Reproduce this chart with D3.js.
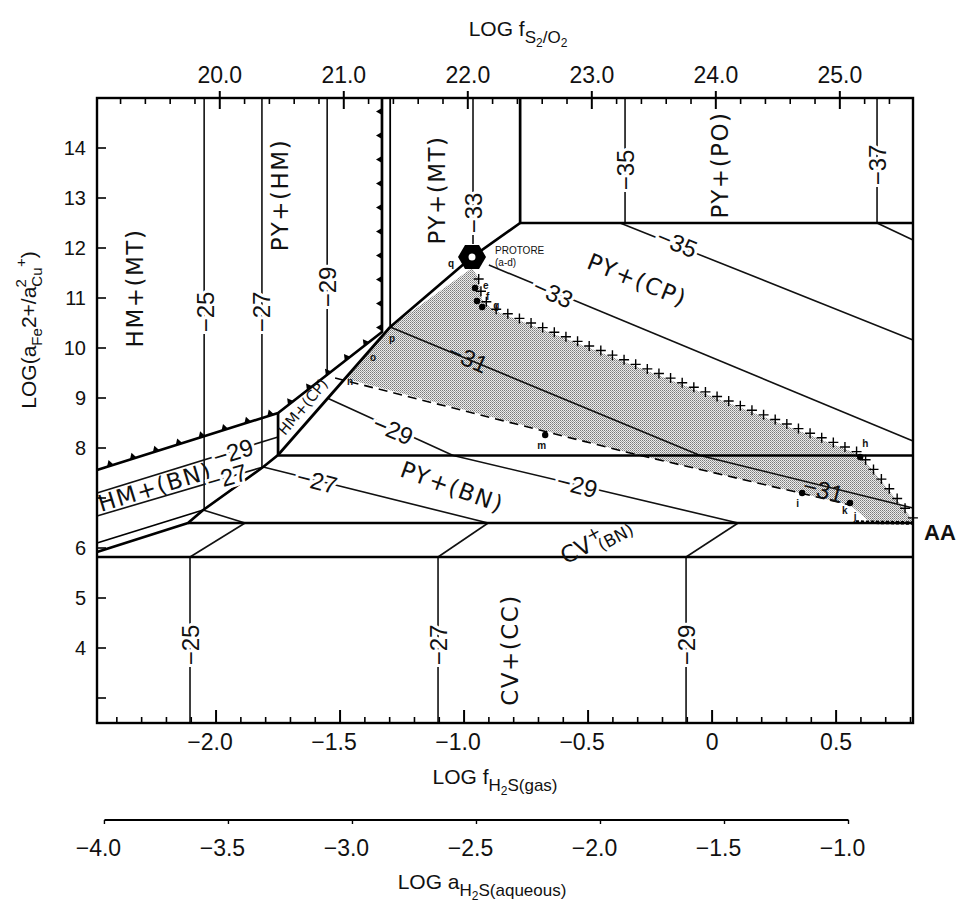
<!DOCTYPE html>
<html><head><meta charset="utf-8">
<script src="https://cdn.jsdelivr.net/npm/d3@7"></script>
<style>
body{margin:0;background:#fff;}
svg{display:block;background:#fff;}
text{font-family:"Liberation Sans",Arial,sans-serif;fill:#111;}
.reg{font-family:"DejaVu Sans","Liberation Sans",sans-serif;}
</style></head><body>
<svg id="c" width="965" height="914"></svg>
<script>
// ---------------- DATA ----------------
const xDomain = [-2.48, 0.81];          // log f H2S(gas)
const yDomain = [2.5, 15];              // log(aFe2+/a2Cu+)
const bottomTicks = [-2.0, -1.5, -1.0, -0.5, 0, 0.5];
const bottomTickLabels = ["−2.0", "−1.5", "−1.0", "−0.5", "0", "0.5"];
const topOffset = 23.97;                // log fS2/O2 = 2·log fH2S + offset
const topTicks = [20, 21, 22, 23, 24, 25];
const topTickLabels = ["20.0", "21.0", "22.0", "23.0", "24.0", "25.0"];
const aqOffset = 1.55;                  // log aH2S(aq) = log fH2S − offset
const aqTicks = [-4.0, -3.5, -3.0, -2.5, -2.0, -1.5, -1.0];
const aqTickLabels = ["−4.0", "−3.5", "−3.0", "−2.5", "−2.0", "−1.5", "−1.0"];
const yTicks = [14, 13, 12, 11, 10, 9, 8, 6, 5, 4];
const yTickLabels = ["14", "13", "12", "11", "10", "9", "8", "6", "5", "4"];

// phase boundaries (thick)
const bndPO = [[-0.774, 15], [-0.774, 12.5], [0.81, 12.5]];
const bndDiag = [[-0.774, 12.5], [-0.968, 11.82], [-1.298, 10.42]];
const bndHM = [[-2.48, 7.56], [-1.75, 8.70], [-1.331, 10.32], [-1.331, 15]];   // hematite limit (triangles)
const bndMTHM = [[-1.298, 10.42], [-1.298, 15]];
const bndHMCPv = [[-1.75, 8.70], [-1.75, 7.86]];
const bndHMCP = [[-1.75, 7.86], [-1.298, 10.42]];
const bndBN = [[-1.75, 7.86], [-1.81, 7.62], [-2.052, 6.76], [-2.113, 6.50], [-2.48, 5.92]];
const bndBNthin = [[-2.48, 6.10], [-2.052, 6.76]];
const bndCPBN = [[-1.75, 7.85], [0.81, 7.85]];
const bndBNCV = [[-2.113, 6.5], [0.81, 6.5]];
const bndCVCC = [[-2.48, 5.82], [0.81, 5.82]];

// contours (log fO2)
const cont25 = [[[-2.048, 15], [-2.048, 6.76]], [[-2.052, 6.76], [-1.883, 6.5]], [[-1.883, 6.5], [-2.105, 5.82]], [[-2.105, 5.82], [-2.105, 2.5]]];
const cont27 = [[[-1.815, 15], [-1.815, 7.62]], [[-2.48, 6.64], [-1.81, 7.62]], [[-1.81, 7.62], [-0.903, 6.5]], [[-0.903, 6.5], [-1.105, 5.82]], [[-1.105, 5.82], [-1.105, 2.5]]];
const cont29 = [[[-1.552, 15], [-1.552, 9.44]], [[-2.48, 7.10], [-1.75, 8.22]], [[-1.552, 9.0], [-1.044, 7.85]], [[-1.044, 7.85], [0.105, 6.5]], [[0.105, 6.5], [-0.105, 5.82]], [[-0.105, 5.82], [-0.105, 2.5]]];
const cont31 = [[[-1.298, 10.42], [-0.048, 7.85], [0.81, 6.80]]];
const cont33 = [[[-0.964, 15], [-0.964, 12.08]], [[-0.90, 11.66], [0.81, 8.14]]];
const cont35 = [[[-0.351, 15], [-0.351, 12.5]], [[-0.371, 12.5], [0.81, 10.16]]];
const cont37 = [[[0.665, 15], [0.665, 12.5]], [[0.665, 12.5], [0.81, 12.16]]];

// altered / shaded field
const shade = [[-0.968, 11.60], [-1.298, 10.42], [-1.48, 9.39], [-0.331, 7.90], [0.355, 7.10], [0.556, 6.86], [0.637, 6.52], [0.81, 6.5], [0.81, 6.56], [0.597, 7.86], [-0.883, 10.76], [-0.927, 10.96], [-0.944, 11.42]];
const plusLine = [[-0.944, 11.42], [-0.927, 10.96], [-0.883, 10.76], [0.597, 7.86], [0.81, 6.56]];
const dashLine = [[-1.52, 9.40], [-0.331, 7.90], [0.355, 7.10], [0.556, 6.86]];
const rimLine = [[0.58, 6.52], [0.81, 6.5]];
const protore = [-0.968, 11.82];

const sampleNames = ["e", "f", "g", "h", "i", "k", "m"];
const samplePts = [[-0.956, 11.20], [-0.948, 10.94], [-0.927, 10.82], [0.597, 7.82], [0.363, 7.10], [0.556, 6.90], [-0.673, 8.26]];
const letterNames = ["q", "n", "o", "p", "j"];
const letterPts = [[-1.052, 11.70], [-1.46, 9.34], [-1.367, 9.82], [-1.29, 10.20], [0.577, 6.64]];

const regionNames = ["HM+(MT)", "PY+(HM)", "PY+(MT)", "PY+(PO)", "PY+(CP)", "PY+(BN)", "HM+(BN)", "CV+(CC)"];
const regionPos = [[-2.327, 11.20], [-1.742, 13.06], [-1.109, 13.16], [0.032, 13.66], [-0.302, 11.36], [-1.048, 7.22], [-2.246, 7.22], [-0.815, 3.96]];
const regionRot = [-90, -90, -90, -90, 22, 20, -17, -90];

const cLabelText = ["−25", "−27", "−29", "−33", "−35", "−37", "−33", "−35", "−31", "−29", "−29", "−27", "−27", "−29", "−31", "−25", "−27", "−29"];
const cLabelPos = [[-2.044, 10.72], [-1.815, 10.72], [-1.552, 11.22], [-0.964, 12.70], [-0.351, 13.56], [0.665, 13.66], [-0.641, 11.10], [-0.141, 12.10], [-0.984, 9.80], [-1.286, 8.36], [-0.544, 7.26], [-1.593, 7.34], [-1.956, 7.42], [-1.931, 7.92], [0.448, 7.16], [-2.105, 4.06], [-1.105, 4.06], [-0.105, 4.06]];
const cLabelRot = [-90, -90, -90, -90, -90, -90, 24, 22, 24, 23, 14, 14, -16, -17, 14, -90, -90, -90];
const cLabelNoHalo = new Set([8, 14]);

// ---------------- CHART ----------------
const svg = d3.select("#c");
const L = 97, R = 913, T = 98, B = 723;
const x = d3.scaleLinear().domain(xDomain).range([L, R]);
const y = d3.scaleLinear().domain(yDomain).range([B, T]);
const xTop = d3.scaleLinear().domain(xDomain.map(v => 2 * v + topOffset)).range([L, R]);
const xAq = d3.scaleLinear().domain(xDomain.map(v => v - aqOffset)).range([L, R]);
const line = d3.line().x(d => x(d[0])).y(d => y(d[1]));

const defs = svg.append("defs");
const pat = defs.append("pattern").attr("id", "stip").attr("width", 2).attr("height", 2).attr("patternUnits", "userSpaceOnUse");
pat.append("rect").attr("width", 2).attr("height", 2).attr("fill", "#ececec");
pat.append("rect").attr("x", 0).attr("y", 0).attr("width", 1).attr("height", 1).attr("fill", "#7a7a7a");
pat.append("rect").attr("x", 1).attr("y", 1).attr("width", 1).attr("height", 1).attr("fill", "#a0a0a0");

// shaded field
svg.append("path").attr("d", line(shade) + "Z").attr("fill", "url(#stip)");

// contours
[cont25, cont27, cont29, cont31, cont33, cont35, cont37].forEach(c => c.forEach(seg => {
  svg.append("path").attr("d", line(seg)).attr("fill", "none").attr("stroke", "#111").attr("stroke-width", 1.6);
}));

// boundaries
const thick = [bndPO, bndDiag, bndHM, bndHMCPv, bndHMCP, bndBN, bndCPBN, bndBNCV, bndCVCC];
thick.forEach(b => svg.append("path").attr("d", line(b)).attr("fill", "none").attr("stroke", "#000").attr("stroke-width", 2.7).attr("stroke-linejoin", "round"));
[bndMTHM, bndBNthin].forEach(b => svg.append("path").attr("d", line(b)).attr("fill", "none").attr("stroke", "#000").attr("stroke-width", 1.8));

function along(node, spacing, start, fn) {
  const len = node.getTotalLength();
  for (let l = start; l < len; l += spacing) {
    const p = node.getPointAtLength(l);
    const a = node.getPointAtLength(Math.max(0, l - 0.6)), b = node.getPointAtLength(Math.min(len, l + 0.6));
    let dx = b.x - a.x, dy = b.y - a.y; const n = Math.hypot(dx, dy) || 1; dx /= n; dy /= n;
    fn(p, dx, dy);
  }
}
// triangles on hematite limit
const hmNode = svg.append("path").attr("d", line(bndHM)).attr("fill", "none").attr("stroke", "none").node();
along(hmNode, 24, 14, (p, dx, dy) => {
  const nx = dy, ny = -dx;
  const pts = [[p.x - 3.5 * dx, p.y - 3.5 * dy], [p.x + 3.5 * dx, p.y + 3.5 * dy], [p.x + 6 * nx, p.y + 6 * ny]];
  svg.append("path").attr("d", "M" + pts.join("L") + "Z").attr("fill", "#000");
});

// plus line
const plNode = svg.append("path").attr("d", line(plusLine)).attr("fill", "none").attr("stroke", "none").node();
along(plNode, 12.5, 4, (p) => {
  svg.append("path").attr("d", `M${p.x - 5},${p.y - 2}H${p.x + 5}M${p.x},${p.y - 7}V${p.y + 3}`).attr("stroke", "#000").attr("stroke-width", 1.4);
});
// dashed lower limit
svg.append("path").attr("d", line(dashLine)).attr("fill", "none").attr("stroke", "#000").attr("stroke-width", 1.6).attr("stroke-dasharray", "9,6");
svg.append("path").attr("d", line(rimLine)).attr("fill", "none").attr("stroke", "#000").attr("stroke-width", 3.5).attr("stroke-dasharray", "3,2");

// protore hexagon
const hx = x(protore[0]), hy = y(protore[1]);
svg.append("path").attr("d", "M" + d3.range(6).map(i => [hx + 14 * Math.cos(i * Math.PI / 3), hy + 14 * Math.sin(i * Math.PI / 3)]).join("L") + "Z").attr("fill", "#000");
svg.append("circle").attr("cx", hx).attr("cy", hy).attr("r", 3.5).attr("fill", "#fff");
svg.append("text").attr("x", hx + 23).attr("y", hy - 3).attr("font-size", 10).text("PROTORE");
svg.append("text").attr("x", hx + 23).attr("y", hy + 9).attr("font-size", 10).text("(a-d)");

// sample points
const sOff = [[8, 1], [9, -1], [11, 2], [2, -10], [-6, 14], [-8, 11], [-8, 14]];
samplePts.forEach((d, i) => {
  svg.append("circle").attr("cx", x(d[0])).attr("cy", y(d[1])).attr("r", 3.2).attr("fill", "#000");
  svg.append("text").attr("x", x(d[0]) + sOff[i][0]).attr("y", y(d[1]) + sOff[i][1]).attr("font-size", 10).attr("font-weight", "bold").text(sampleNames[i]);
});
letterPts.forEach((d, i) => svg.append("text").attr("x", x(d[0])).attr("y", y(d[1])).attr("font-size", 10).attr("font-weight", "bold").attr("text-anchor", "middle").attr("dominant-baseline", "central").text(letterNames[i]));

// region labels
regionNames.forEach((t, i) => {
  svg.append("text").attr("class", "reg").attr("transform", `translate(${x(regionPos[i][0])},${y(regionPos[i][1])}) rotate(${regionRot[i]})`)
    .attr("text-anchor", "middle").attr("dominant-baseline", "central").attr("font-size", 23).attr("letter-spacing", 1.5).text(t);
});
// HM+(CP)
svg.append("text").attr("class", "reg").attr("transform", `translate(${x(-1.649)},${y(8.82)}) rotate(-50)`).attr("text-anchor", "middle").attr("dominant-baseline", "central").attr("font-size", 15).text("HM+(CP)");
// CV+(BN)
const cvb = svg.append("text").attr("class", "reg").attr("transform", `translate(${x(-0.47)},${y(6.16)}) rotate(-28)`).attr("text-anchor", "middle").attr("dominant-baseline", "central").attr("font-size", 23);
cvb.append("tspan").text("CV");
cvb.append("tspan").attr("dy", -7).attr("font-size", 17).text("+");
cvb.append("tspan").attr("dy", 14).attr("dx", -8).attr("font-size", 17).text("(BN)");

// contour labels
cLabelText.forEach((t, i) => {
  const tx = svg.append("text").attr("transform", `translate(${x(cLabelPos[i][0])},${y(cLabelPos[i][1])}) rotate(${cLabelRot[i]})`)
    .attr("text-anchor", "middle").attr("dominant-baseline", "central").attr("font-size", 24).text(t);
  if (!cLabelNoHalo.has(i)) tx.attr("stroke", "#fff").attr("stroke-width", 6).attr("paint-order", "stroke");
});

// frame
svg.append("rect").attr("x", L).attr("y", T).attr("width", R - L).attr("height", B - T).attr("fill", "none").attr("stroke", "#000").attr("stroke-width", 2.4);

// bottom axis ticks
d3.range(-24, 9).map(i => i / 10).forEach(v => {
  const major = bottomTicks.some(t => Math.abs(t - v) < 1e-6);
  svg.append("line").attr("x1", x(v)).attr("x2", x(v)).attr("y1", B).attr("y2", B - (major ? 13 : 6)).attr("stroke", "#000").attr("stroke-width", major ? 2 : 1.6);
});
bottomTicks.forEach((v, i) => svg.append("text").attr("x", x(v) - (v < 0 ? 6 : 0)).attr("y", B + 27).attr("text-anchor", "middle").attr("font-size", 23).text(bottomTickLabels[i]));

// top axis ticks
d3.range(96, 129).map(i => i / 5).forEach(v => {
  if (v < xTop.domain()[0] || v > xTop.domain()[1]) return;
  const major = Math.abs(v - Math.round(v)) < 1e-6 && topTicks.includes(Math.round(v));
  svg.append("line").attr("x1", xTop(v)).attr("x2", xTop(v)).attr("y1", major ? T - 7 : T).attr("y2", T + (major ? 11 : 6)).attr("stroke", "#000").attr("stroke-width", major ? 2 : 1.6);
});
topTicks.forEach((v, i) => svg.append("text").attr("x", xTop(v)).attr("y", T - 15).attr("text-anchor", "middle").attr("font-size", 23).text(topTickLabels[i]));

// left axis ticks
d3.range(3, 15).forEach(v => svg.append("line").attr("x1", L).attr("x2", L + 9).attr("y1", y(v)).attr("y2", y(v)).attr("stroke", "#000").attr("stroke-width", 1.6));
yTicks.forEach((v, i) => svg.append("text").attr("x", L - 11).attr("y", y(v)).attr("text-anchor", "end").attr("dominant-baseline", "central").attr("font-size", 20).text(yTickLabels[i]));

// aqueous axis
const aqY = 820;
svg.append("line").attr("x1", xAq(-4)).attr("x2", xAq(-1)).attr("y1", aqY).attr("y2", aqY).attr("stroke", "#000").attr("stroke-width", 2.2);
aqTicks.forEach((v, i) => {
  svg.append("line").attr("x1", xAq(v)).attr("x2", xAq(v)).attr("y1", aqY).attr("y2", aqY + 4).attr("stroke", "#000").attr("stroke-width", 1.4);
  svg.append("text").attr("x", xAq(v) - 6).attr("y", aqY + 36).attr("text-anchor", "middle").attr("font-size", 23).text(aqTickLabels[i]);
});

// titles
const tt = svg.append("text").attr("x", 518).attr("y", 36).attr("text-anchor", "middle").attr("font-size", 21);
tt.append("tspan").text("LOG f");
tt.append("tspan").attr("dy", 7).attr("font-size", 17).text("S");
tt.append("tspan").attr("dy", 4).attr("font-size", 12).text("2");
tt.append("tspan").attr("dy", -4).attr("font-size", 17).text("/O");
tt.append("tspan").attr("dy", 4).attr("font-size", 12).text("2");

const bt = svg.append("text").attr("x", 495).attr("y", 784).attr("text-anchor", "middle").attr("font-size", 21);
bt.append("tspan").text("LOG f");
bt.append("tspan").attr("dy", 7).attr("font-size", 17).text("H");
bt.append("tspan").attr("dy", 4).attr("font-size", 12).text("2");
bt.append("tspan").attr("dy", -4).attr("font-size", 17).text("S(gas)");

const at = svg.append("text").attr("x", 482).attr("y", 889).attr("text-anchor", "middle").attr("font-size", 21);
at.append("tspan").text("LOG a");
at.append("tspan").attr("dy", 7).attr("font-size", 17).text("H");
at.append("tspan").attr("dy", 4).attr("font-size", 12).text("2");
at.append("tspan").attr("dy", -4).attr("font-size", 17).text("S(aqueous)");

const yt = svg.append("text").attr("transform", "translate(36,330) rotate(-90)").attr("text-anchor", "middle").attr("font-size", 21);
yt.append("tspan").text("LOG(a");
yt.append("tspan").attr("dy", 6).attr("font-size", 15).text("Fe");
yt.append("tspan").attr("dy", -6).text("2+/a");
yt.append("tspan").attr("dy", 6).attr("font-size", 15).text("Cu");
yt.append("tspan").attr("dy", -16).attr("dx", -20).attr("font-size", 15).text("2");
yt.append("tspan").attr("dx", 12).attr("font-size", 15).text("+");
yt.append("tspan").attr("dy", 10).text(")");

// AA
svg.append("text").attr("x", 940).attr("y", y(6.32)).attr("text-anchor", "middle").attr("dominant-baseline", "central").attr("font-size", 22).attr("font-weight", "bold").text("AA");
</script></body></html>
